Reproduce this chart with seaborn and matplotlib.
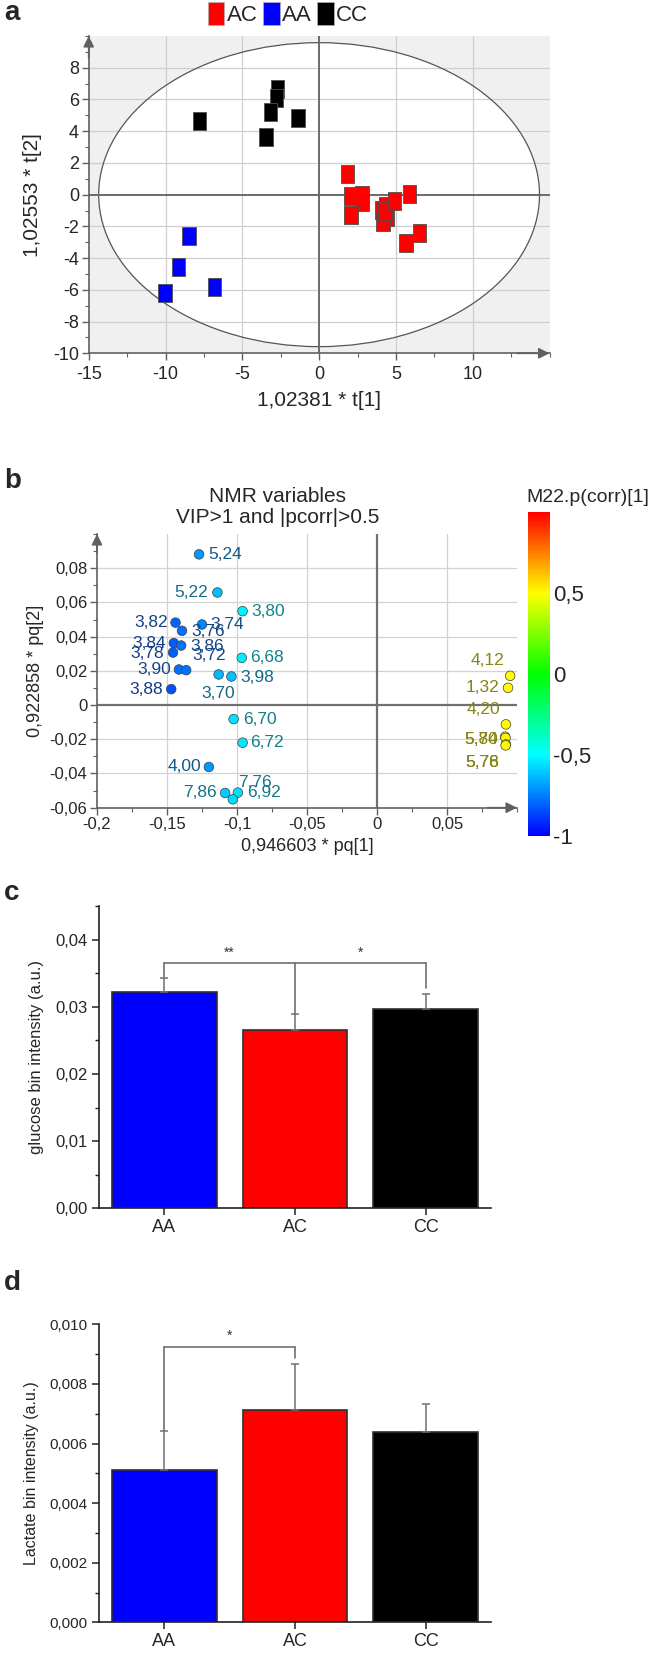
import numpy as np
import pandas as pd
import matplotlib
matplotlib.use("Agg")
import matplotlib.pyplot as plt
import seaborn as sns
from matplotlib import font_manager
from matplotlib.patches import Ellipse, Patch
from matplotlib.path import Path
from matplotlib.markers import MarkerStyle
from matplotlib.colors import LinearSegmentedColormap, Normalize
from matplotlib.cm import ScalarMappable
from matplotlib.ticker import MultipleLocator, FuncFormatter

# ---------------- data ----------------
# panel a: PLS-DA scores
ac_x = [1.86, 2.06, 2.78, 2.78, 2.06, 4.08, 4.36, 4.44, 4.17, 4.30, 4.92, 5.89, 6.53, 5.67]
ac_y = [1.30, -0.06, -0.02, -0.44, -1.28, -0.97, -0.71, -1.39, -1.70, -1.05, -0.40, 0.02, -2.44, -3.05]
aa_x = [-8.47, -9.14, -10.03, -6.81]
aa_y = [-2.63, -4.56, -6.18, -5.84]
cc_x = [-7.78, -2.72, -2.78, -3.17, -3.44, -1.39]
cc_y = [4.66, 6.64, 6.07, 5.21, 3.66, 4.83]
t2_semi_x = 14.35
t2_semi_y = 9.58
legend_order = ["AC", "AA", "CC"]
group_colors = {"AC": "#ff0000", "AA": "#0000ff", "CC": "#000000"}

# panel b: loadings
var_labels = ["5,24", "5,22", "3,80", "3,82", "3,74", "3,76", "3,84", "3,86", "3,78",
              "6,68", "3,90", "3,72", "3,70", "3,98", "3,88", "6,70", "6,72", "4,00",
              "7,86", "6,92", "7,76", "4,12", "1,32", "4,20", "5,74", "5,80", "5,76", "5,78"]
var_x = [-0.1271, -0.1140, -0.0960, -0.1439, -0.1250, -0.1393, -0.1451, -0.1399, -0.1457,
         -0.0966, -0.1415, -0.1363, -0.1131, -0.1040, -0.1470, -0.1024, -0.0960, -0.1201,
         -0.1085, -0.0994, -0.1030, 0.0951, 0.0936, 0.0921, 0.0915, 0.0918, 0.0921, 0.0919]
var_y = [0.0881, 0.0658, 0.0549, 0.0482, 0.0471, 0.0434, 0.0362, 0.0348, 0.0307,
         0.0276, 0.0208, 0.0204, 0.0179, 0.0167, 0.0093, -0.0082, -0.0220, -0.0362,
         -0.0514, -0.0512, -0.0551, 0.0171, 0.0101, -0.0113, -0.0185, -0.0192, -0.0230, -0.0236]
var_pcorr = [-0.70, -0.62, -0.52, -0.80, -0.74, -0.78, -0.82, -0.78, -0.82,
             -0.53, -0.78, -0.77, -0.64, -0.62, -0.84, -0.55, -0.54, -0.70,
             -0.60, -0.56, -0.57, 0.50, 0.51, 0.50, 0.50, 0.51, 0.50, 0.51]
# label placement (pixel offsets from point, alignment)
lab_dx = [9, -9, 9, -8, 8, 9, -8, 9, -9, 8, -8, 6, 0, 9, -8, 9, 8, -8, -8, 9, 5, -6, -9, -6, -7, -7, -7, -7]
lab_dy = [0, 0, 0, 0, 0, -1, 0, -1, -1, 0, 0, 15, -19, -1, 0, 0, 0, 0, 0, 0, 17, 15, 0, 15, -3, -2, -18, -17]
lab_ha = ["left", "right", "left", "right", "left", "left", "right", "left", "right",
          "left", "right", "left", "center", "left", "right", "left", "left", "right",
          "right", "left", "left", "right", "right", "right", "right", "right", "right", "right"]

# panels c, d: bar charts
genotypes = ["AA", "AC", "CC"]
bar_colors = ["#0000ff", "#ff0000", "#000000"]
glucose_mean = [0.03216, 0.02660, 0.02973]
glucose_sd = [0.00213, 0.00228, 0.00213]
lactate_mean = [0.005112, 0.007136, 0.006398]
lactate_sd = [0.001320, 0.001533, 0.000929]
# significance brackets
glu_bracket_y = 0.03648
glu_bracket_ends = [0.0343, 0.0289, 0.0328]
glu_stars = [("**", 0.5), ("*", 1.5)]
lac_bracket_y = 0.00925
lac_bracket_ends = [0.00643, 0.00886]
lac_stars = [("*", 0.5)]

# ---------------- style ----------------
sns.set_theme(style="white")
names = {f.name for f in font_manager.fontManager.ttflist}
MAIN = "Liberation Sans" if "Liberation Sans" in names else "DejaVu Sans"
NARROW = "Liberation Sans Narrow" if "Liberation Sans Narrow" in names else MAIN
plt.rcParams["font.family"] = [MAIN, "DejaVu Sans"]
plt.rcParams["axes.unicode_minus"] = False

W, H = 668, 1653
fig = plt.figure(figsize=(W / 100, H / 100), dpi=100)


def fax(l, t, r, b):
    return fig.add_axes([l / W, 1 - b / H, (r - l) / W, (b - t) / H])


def comma_fmt(decimals=None):
    def f(v, pos):
        if abs(v) < 1e-12:
            v = 0.0
        if decimals is None:
            s = ("%.6f" % v).rstrip("0").rstrip(".")
            if s in ("-0", ""):
                s = "0"
        else:
            s = ("%." + str(decimals) + "f") % v
        return s.replace(".", ",")
    return FuncFormatter(f)


def arrow_axes(ax, color):
    ax.annotate("", xy=(0, 1.0), xytext=(0, 0.93), xycoords="axes fraction",
                arrowprops=dict(arrowstyle="-|>", color=color, lw=1.2, mutation_scale=16,
                                shrinkA=0, shrinkB=0), annotation_clip=False, zorder=10)
    ax.annotate("", xy=(1.0, 0), xytext=(0.93, 0), xycoords="axes fraction",
                arrowprops=dict(arrowstyle="-|>", color=color, lw=1.2, mutation_scale=16,
                                shrinkA=0, shrinkB=0), annotation_clip=False, zorder=10)


GRAYAX = "#606060"

# ---------------- panel a ----------------
axA = fax(88.7, 36, 549.5, 353.3)
axA.set_facecolor("#f0f0f0")
axA.set_xlim(-15, 15)
axA.set_ylim(-10, 10)
axA.add_patch(Ellipse((0, 0), 2 * t2_semi_x, 2 * t2_semi_y, facecolor="white",
                      edgecolor="none", zorder=0.5))
for gx in [-10, -5, 5, 10]:
    axA.axvline(gx, color="#cfcfcf", lw=0.9, zorder=1)
for gy in [-8, -6, -4, -2, 2, 4, 6, 8]:
    axA.axhline(gy, color="#cfcfcf", lw=0.9, zorder=1)
axA.add_patch(Ellipse((0, 0), 2 * t2_semi_x, 2 * t2_semi_y, facecolor="none",
                      edgecolor="#555555", lw=0.9, zorder=1.5))
axA.axhline(0, color="#6a6a6a", lw=1.4, zorder=1.6)
axA.axvline(0, color="#6a6a6a", lw=1.4, zorder=1.6)

scores = pd.DataFrame({
    "t1": ac_x + aa_x + cc_x,
    "t2": ac_y + aa_y + cc_y,
    "group": ["AC"] * len(ac_x) + ["AA"] * len(aa_x) + ["CC"] * len(cc_x),
})
rect = Path([(-0.38, -0.5), (0.38, -0.5), (0.38, 0.5), (-0.38, 0.5), (-0.38, -0.5)],
            [Path.MOVETO, Path.LINETO, Path.LINETO, Path.LINETO, Path.CLOSEPOLY])
sns.scatterplot(data=scores, x="t1", y="t2", hue="group", palette=group_colors,
                marker=MarkerStyle(rect), s=165, edgecolor="#505050", linewidth=0.6,
                legend=False, ax=axA, zorder=3)
axA.set_xlim(-15, 15)
axA.set_ylim(-10, 10)
for sp in ["top", "right"]:
    axA.spines[sp].set_visible(False)
for sp in ["left", "bottom"]:
    axA.spines[sp].set_color(GRAYAX)
    axA.spines[sp].set_linewidth(1.2)
axA.set_xticks([-15, -10, -5, 0, 5, 10])
axA.set_yticks([-10, -8, -6, -4, -2, 0, 2, 4, 6, 8])
axA.xaxis.set_minor_locator(MultipleLocator(2.5))
axA.yaxis.set_minor_locator(MultipleLocator(1))
axA.tick_params(axis="both", which="major", direction="out", length=5, width=1, color=GRAYAX,
                bottom=True, left=True)
axA.tick_params(axis="both", which="minor", direction="out", length=3, width=0.8, color=GRAYAX,
                bottom=True, left=True)
axA.tick_params(axis="y", labelsize=13, pad=2)
axA.tick_params(axis="x", labelsize=13, pad=4)
for lb in axA.get_xticklabels():
    lb.set_fontfamily(NARROW)
axA.set_xlabel("1,02381 * t[1]", fontsize=15, family=NARROW, labelpad=6)
axA.set_ylabel("1,02553 * t[2]", fontsize=15, family=NARROW, labelpad=8)
arrow_axes(axA, GRAYAX)

handles = [Patch(facecolor=group_colors[g], edgecolor="#b0b0b0", lw=0.5, label=g) for g in legend_order]
fig.legend(handles=handles, loc="center", bbox_to_anchor=(288 / W, 1 - 14 / H), ncol=3,
           frameon=False, handlelength=0.75, handleheight=1.25, handletextpad=0.1,
           columnspacing=0.25, prop={"family": NARROW, "size": 16})
fig.text(4 / W, 1 - 13 / H, "a", fontsize=20, fontweight="bold", va="center", ha="left")

# ---------------- panel b ----------------
axB = fax(97, 534, 517, 807.7)
cmap = LinearSegmentedColormap.from_list("pcorr", ["#0000ff", "#00ffff", "#00ff00", "#ffff00", "#ff0000"])
norm = Normalize(-1, 1)
for gx in [-0.15, -0.1, -0.05, 0.05]:
    axB.axvline(gx, color="#d2d2d2", lw=0.9, zorder=1)
for gy in [-0.04, -0.02, 0.02, 0.04, 0.06, 0.08]:
    axB.axhline(gy, color="#d2d2d2", lw=0.9, zorder=1)
axB.axhline(0, color="#707070", lw=1.6, zorder=1.5)
axB.axvline(0, color="#707070", lw=1.6, zorder=1.5)
loads = pd.DataFrame({"pq1": var_x, "pq2": var_y, "pcorr": var_pcorr})
sns.scatterplot(data=loads, x="pq1", y="pq2", hue="pcorr", palette=cmap, hue_norm=norm,
                s=48, edgecolor="#404040", linewidth=0.5, legend=False, ax=axB, zorder=3)
for lab, x, y, pc, dx, dy, ha in zip(var_labels, var_x, var_y, var_pcorr, lab_dx, lab_dy, lab_ha):
    c = np.array(cmap(norm(pc))[:3]) * 0.45 + 20 / 255
    axB.annotate(lab, (x, y), xytext=(dx * 0.72, dy * 0.72), textcoords="offset points",
                 ha=ha, va="center", fontsize=12.5, color=c, zorder=4)
axB.set_xlim(-0.2, 0.1)
axB.set_ylim(-0.06, 0.1)
for sp in ["top", "right"]:
    axB.spines[sp].set_visible(False)
for sp in ["left", "bottom"]:
    axB.spines[sp].set_color(GRAYAX)
    axB.spines[sp].set_linewidth(1.2)
axB.set_xticks([-0.2, -0.15, -0.1, -0.05, 0, 0.05])
axB.set_yticks([-0.06, -0.04, -0.02, 0, 0.02, 0.04, 0.06, 0.08])
axB.xaxis.set_minor_locator(MultipleLocator(0.025))
axB.yaxis.set_minor_locator(MultipleLocator(0.01))
axB.xaxis.set_major_formatter(comma_fmt())
axB.yaxis.set_major_formatter(comma_fmt())
axB.tick_params(axis="both", which="major", direction="out", length=5, width=1, color=GRAYAX,
                bottom=True, left=True, labelsize=12, pad=2)
axB.tick_params(axis="both", which="minor", direction="out", length=3, width=0.8, color=GRAYAX,
                bottom=True, left=True)
for lb in axB.get_xticklabels():
    lb.set_fontfamily(NARROW)
axB.set_xlabel("0,946603 * pq[1]", fontsize=13, labelpad=4)
axB.set_ylabel("0,922858 * pq[2]", fontsize=13, labelpad=4)
axB.set_title("NMR variables\nVIP>1 and |pcorr|>0.5", fontsize=15, pad=8, x=0.43, linespacing=1.1)
arrow_axes(axB, GRAYAX)

cax = fax(528, 512, 550, 836)
cb = fig.colorbar(ScalarMappable(norm=norm, cmap=cmap), cax=cax)
cb.outline.set_visible(False)
cb.set_ticks([-1, -0.5, 0, 0.5])
cb.set_ticklabels(["-1", "-0,5", "0", "0,5"])
cax.tick_params(length=0, labelsize=16, pad=2)
fig.text(526 / W, 1 - 497 / H, "M22.p(corr)[1]", fontsize=14, ha="left", va="center")
fig.text(4 / W, 1 - 481 / H, "b", fontsize=20, fontweight="bold", va="center", ha="left")


# ---------------- panels c, d ----------------
def bar_panel(ax, means, sds, ylim, major, minor, dec, ylabel, ysize, tsize,
              br_y, br_ends, stars):
    df = pd.DataFrame({"genotype": genotypes, "value": means})
    sns.barplot(data=df, x="genotype", y="value", hue="genotype", palette=bar_colors,
                saturation=1, legend=False, width=0.8, edgecolor="#303030", linewidth=1.2,
                errorbar=None, ax=ax, zorder=2)
    ax.errorbar(range(len(means)), means, yerr=[np.zeros(len(sds)), sds], fmt="none",
                ecolor="#707070", elinewidth=1.1, capsize=3, capthick=1.1, zorder=3)
    xs = list(range(len(br_ends)))
    ax.plot([xs[0], xs[-1]], [br_y, br_y], color="#707070", lw=1.2, zorder=3)
    for xx, e in zip(xs, br_ends):
        ax.plot([xx, xx], [br_y, e], color="#707070", lw=1.2, zorder=3)
    for txt, xx in stars:
        ax.text(xx, br_y + (ylim[1] - ylim[0]) * 0.012, txt, ha="center", va="bottom",
                fontsize=10, color="#333333")
    ax.set_xlim(-0.5, 2.5)
    ax.set_ylim(*ylim)
    ax.yaxis.set_major_locator(MultipleLocator(major))
    ax.yaxis.set_minor_locator(MultipleLocator(minor))
    ax.yaxis.set_major_formatter(comma_fmt(dec))
    for sp in ["top", "right"]:
        ax.spines[sp].set_visible(False)
    for sp in ["left", "bottom"]:
        ax.spines[sp].set_color("#222222")
        ax.spines[sp].set_linewidth(1.2)
    ax.tick_params(axis="both", which="major", direction="out", length=5, width=1.1,
                   color="#222222", bottom=True, left=True, pad=3)
    ax.tick_params(axis="y", which="minor", direction="out", length=3, width=1, color="#222222",
                   left=True)
    ax.tick_params(axis="y", labelsize=tsize)
    ax.tick_params(axis="x", labelsize=13)
    for lb in ax.get_xticklabels():
        lb.set_fontfamily(NARROW)
    ax.set_xlabel("")
    ax.set_ylabel(ylabel, fontsize=ysize, labelpad=8)


axC = fax(99, 906, 491, 1208.3)
bar_panel(axC, glucose_mean, glucose_sd, (0, 0.045), 0.01, 0.005, 2,
          "glucose bin intensity (a.u.)", 12, 12, glu_bracket_y, glu_bracket_ends, glu_stars)
fig.text(4 / W, 1 - 893 / H, "c", fontsize=20, fontweight="bold", va="center", ha="left")

axD = fax(99, 1324.3, 491, 1622.3)
bar_panel(axD, lactate_mean, lactate_sd, (0, 0.010), 0.002, 0.001, 3,
          "Lactate bin intensity (a.u.)", 11.5, 11, lac_bracket_y, lac_bracket_ends, lac_stars)
fig.text(4 / W, 1 - 1283 / H, "d", fontsize=20, fontweight="bold", va="center", ha="left")

fig.savefig("out.png", dpi=100, facecolor="white")
